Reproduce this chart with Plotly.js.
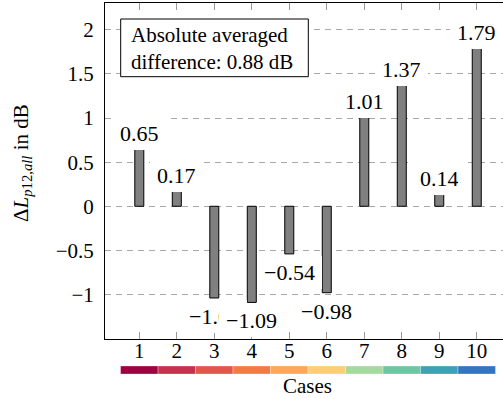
<!DOCTYPE html>
<html><head><meta charset="utf-8">
<script src="https://cdn.plot.ly/plotly-3.0.1.min.js"></script>
<style>html,body{margin:0;padding:0;background:#fff}#chart{width:503px;height:399px}</style>
</head><body><div id="chart"></div>
<script>
// ---- data ----
const cases = [1, 2, 3, 4, 5, 6, 7, 8, 9, 10];
const deltaLp = [0.65, 0.17, -1.04, -1.09, -0.54, -0.98, 1.01, 1.37, 0.14, 1.79];
const caseColors = ['#a0023f', '#c92f4f', '#e3544b', '#f47946', '#fca75e', '#fdcd79', '#a6d9a0', '#70c5a5', '#40a0b4', '#3675bb'];
const yTickVals = [-1, -0.5, 0, 0.5, 1, 1.5, 2];
const boxText = ['Absolute averaged', 'difference: 0.88 dB'];

// ---- geometry helpers ----
const W = 503, H = 399, ML = 105, MR = 0, MT = 3, MB = 25;
const PW = W - ML - MR, PH = H - MT - MB;
const px2x = p => (p - ML) / PW;
const py2y = p => (H - MB - p) / PH;
const FONT = '"Liberation Serif", "Times New Roman", Times, serif';
const fmt = v => (v < 0 ? '\u2212' : '') + Math.abs(v).toFixed(2);

const traces = [
  {
    type: 'bar', x: cases, y: deltaLp, width: 0.24,
    marker: {color: '#808080', line: {color: '#000', width: 1}},
    xaxis: 'x', yaxis: 'y', hoverinfo: 'none', showlegend: false
  },
  {
    type: 'bar', x: cases, y: cases.map(() => 1), width: 1,
    marker: {color: caseColors, line: {color: 'rgba(255,255,255,0.6)', width: 0.5}},
    xaxis: 'x', yaxis: 'y2', hoverinfo: 'none', showlegend: false
  }
];

const annotations = deltaLp.map((v, i) => ({
  x: cases[i], y: v, xref: 'x', yref: 'y',
  text: fmt(v), showarrow: false,
  yanchor: v >= 0 ? 'bottom' : 'top',
  yshift: v >= 0 ? -1 : -2,
  bgcolor: '#fff', borderpad: 7, borderwidth: 0, height: 19,
  font: {family: FONT, size: 22, color: '#000'}
}));

annotations.push({
  xref: 'paper', yref: 'paper', x: px2x(129), y: py2y(48),
  xanchor: 'left', yanchor: 'middle', align: 'left',
  text: boxText.join('<br>'), showarrow: false,
  font: {family: FONT, size: 21, color: '#000'}
});
annotations.push({
  xref: 'paper', yref: 'paper', x: px2x(22), y: py2y(163),
  xanchor: 'center', yanchor: 'middle', textangle: -90,
  text: '\u0394<i>L</i><sub><i>p</i>12,<i>all</i></sub> in dB', showarrow: false,
  font: {family: FONT, size: 21, color: '#000'}
});
annotations.push({
  xref: 'paper', yref: 'paper', x: px2x(307.5), y: py2y(386),
  xanchor: 'center', yanchor: 'middle',
  text: 'Cases', showarrow: false,
  font: {family: FONT, size: 21, color: '#000'}
});

const layout = {
  width: W, height: H,
  margin: {l: ML, r: MR, t: MT, b: MB, pad: 0},
  paper_bgcolor: '#fff', plot_bgcolor: 'rgba(0,0,0,0)',
  font: {family: FONT, color: '#000'},
  showlegend: false, bargap: 0,
  xaxis: {
    range: [0.085, 10.70], domain: [0, 1], anchor: 'y',
    tickvals: cases, ticktext: cases.map(String),
    ticks: 'inside', ticklen: 7, tickcolor: '#9a9a9a', tickwidth: 1,
    showline: true, linecolor: '#000', linewidth: 1, mirror: 'ticks',
    showgrid: false, zeroline: false, ticklabelstandoff: -7,
    tickfont: {family: FONT, size: 21, color: '#000'}
  },
  yaxis: {
    range: [-1.505, 2.305], domain: [py2y(339), 1], anchor: 'x',
    tickvals: yTickVals,
    ticks: '', showline: true, linecolor: '#000', linewidth: 1,
    showgrid: true, gridcolor: '#a8a8a8', gridwidth: 1, griddash: '6px,5px',
    zeroline: false, ticklabelstandoff: 6,
    tickfont: {family: FONT, size: 21, color: '#000'}
  },
  yaxis2: {
    range: [0, 1], domain: [0, py2y(366)], anchor: 'x', visible: false, fixedrange: true
  },
  shapes: [{
    type: 'rect', xref: 'paper', yref: 'paper', layer: 'above',
    x0: px2x(120.7), x1: px2x(308.3), y0: py2y(76.7), y1: py2y(19),
    line: {color: '#000', width: 1}, fillcolor: '#fff'
  }],
  annotations: annotations
};

Plotly.newPlot('chart', traces, layout, {staticPlot: true, displayModeBar: false});
</script>
</body></html>
